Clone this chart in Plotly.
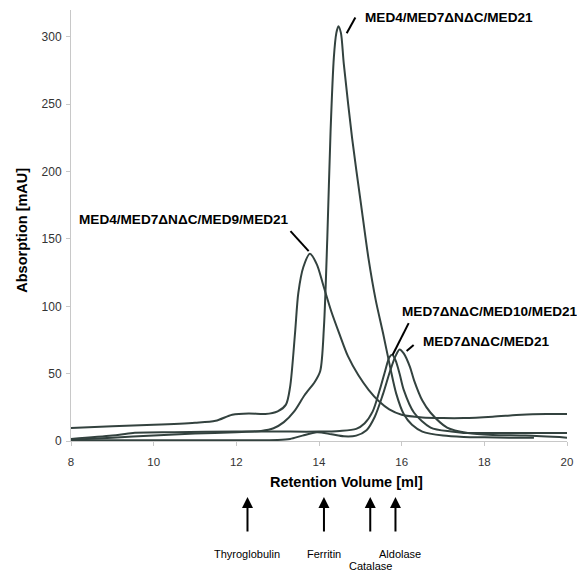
import plotly.graph_objects as go

# ---- data (retention volume [ml], absorption [mAU]) ----
a_x = [8.0, 9.0, 10.0, 11.0, 12.0, 12.6, 12.9, 13.15, 13.4, 13.65, 13.9, 14.03, 14.12, 14.2, 14.28, 14.36, 14.42, 14.47, 14.53, 14.6, 14.8, 15.02, 15.2, 15.37, 15.55, 15.72, 15.87, 16.05, 16.25, 16.5, 17.0, 17.5, 18.0, 18.6, 19.2]
a_y = [1.0, 2.5, 4.0, 5.5, 6.5, 7.5, 9.5, 14, 22, 34, 44, 52, 85, 150, 230, 285, 303, 308, 303, 280, 225, 175, 135, 105, 80, 55, 35, 20, 12, 7, 4, 3, 2.7, 2.5, 2.5]

b_x = [8.0, 9.0, 10.0, 11.0, 11.5, 11.9, 12.3, 12.7, 13.0, 13.2, 13.3, 13.42, 13.5, 13.62, 13.78, 13.95, 14.1, 14.3, 14.5, 14.7, 14.95, 15.2, 15.45, 15.7, 16.0, 16.5, 17.0, 17.5, 18.2, 18.9, 19.5, 20.0]
b_y = [9.6, 11, 12, 13.5, 15, 19.5, 20.5, 20, 22, 27, 40, 80, 110, 129, 139, 131, 116, 96, 79, 63, 49, 38, 29.5, 23.5, 19.5, 17.5, 17, 17, 18, 19.5, 20, 20]

c_x = [8.0, 9.0, 9.5, 10.5, 12.0, 13.0, 14.0, 14.5, 14.9, 15.1, 15.3, 15.47, 15.6, 15.7, 15.77, 15.85, 15.95, 16.05, 16.3, 16.7, 17.2, 17.5, 18.0, 19.0, 20.0]
c_y = [1.5, 4, 6, 6.5, 7, 7, 7, 7.5, 9, 13, 22, 38, 52, 62, 64, 60, 50, 38, 21, 10, 7, 6, 6, 6, 6]

d_x = [8.0, 10.0, 12.0, 13.0, 13.3, 13.6, 13.95, 14.3, 14.6, 14.9, 15.15, 15.35, 15.55, 15.72, 15.85, 15.95, 16.05, 16.2, 16.3, 16.5, 16.7, 17.1, 17.6, 18.2, 19.0, 20.0]
d_y = [0.5, 0.5, 0.5, 0.8, 1.5, 4, 6.5, 5, 3.5, 4, 8, 18, 35, 52, 63, 68, 65, 55, 45, 30, 21, 10, 6, 4.5, 4, 2.5]

series = [(a_x, a_y), (b_x, b_y), (c_x, c_y), (d_x, d_y)]

x_ticks = [8, 10, 12, 14, 16, 18, 20]
y_ticks = [0, 50, 100, 150, 200, 250, 300]

# peak labels: text, label anchor (x, y), pointer start, pointer end
peak_labels = ["MED4/MED7\u0394N\u0394C/MED21", "MED4/MED7\u0394N\u0394C/MED9/MED21",
               "MED7\u0394N\u0394C/MED10/MED21", "MED7\u0394N\u0394C/MED21"]
label_pos = [(15.06, 314.5), (8.15, 164.7), (15.95, 96.4), (16.46, 74.2)]
pointer_from = [(14.67, 302.7), (13.31, 155.8), (16.17, 87.5), (16.29, 71.2)]
pointer_to = [(14.88, 314.5), (13.75, 141.0), (15.78, 63.8), (16.12, 66.8)]

# calibration standards
standards = ["Thyroglobulin", "Ferritin", "Catalase", "Aldolase"]
standard_vol = [12.27, 14.12, 15.24, 15.85]
standard_label_x = [12.25, 14.11, 15.25, 15.97]
standard_label_row = [0, 0, 1, 0]

LINE = "#33423f"
FONT = "Liberation Sans, Arial, sans-serif"

fig = go.Figure()
for xs, ys in series:
    fig.add_trace(go.Scatter(x=xs, y=ys, mode="lines",
                             line=dict(color=LINE, width=2, shape="spline", smoothing=0.8),
                             showlegend=False, hoverinfo="skip"))

ann = []
for t, (lx, ly) in zip(peak_labels, label_pos):
    ann.append(dict(x=lx, y=ly, xref="x", yref="y", text="<b>%s</b>" % t, showarrow=False,
                    xanchor="left", yanchor="middle", font=dict(size=13.6, color="black", family=FONT)))
shapes = []
for (x0, y0), (x1, y1) in zip(pointer_from, pointer_to):
    shapes.append(dict(type="line", xref="x", yref="y", x0=x0, y0=y0, x1=x1, y1=y1,
                       line=dict(color="black", width=2)))

for name, v, lx, row in zip(standards, standard_vol, standard_label_x, standard_label_row):
    ann.append(dict(x=v, y=-0.13, xref="x", yref="paper", text="", showarrow=True,
                    ax=0, ay=36, arrowhead=2, arrowsize=1.1, arrowwidth=2, arrowcolor="black"))
    ann.append(dict(x=lx, y=-0.262 - 0.028 * row, xref="x", yref="paper", text=name, showarrow=False,
                    xanchor="center", yanchor="middle", font=dict(size=11, color="black", family=FONT)))

ann.append(dict(x=14.67, y=-0.095, xref="x", yref="paper", text="<b>Retention Volume [ml]</b>",
                showarrow=False, xanchor="center", yanchor="middle",
                font=dict(size=14.5, color="black", family=FONT)))
ann.append(dict(x=-0.099, y=0.49, xref="paper", yref="paper", text="<b>Absorption [mAU]</b>",
                showarrow=False, textangle=-90, xanchor="center", yanchor="middle",
                font=dict(size=14.5, color="black", family=FONT)))

# page body has an 8px margin, so the figure is sized/offset to compensate
fig.update_layout(
    width=577, height=566,
    margin=dict(l=63, r=18, t=2, b=133),
    paper_bgcolor="white", plot_bgcolor="white",
    annotations=ann, shapes=shapes,
    font=dict(family=FONT, color="#333333", size=11),
    xaxis=dict(range=[8, 20], tickvals=x_ticks, ticktext=[str(v) for v in x_ticks],
               showgrid=False, zeroline=False, showline=True, linecolor="#c8c8c8", linewidth=1,
               ticks="outside", ticklen=4, tickcolor="#c8c8c8", ticklabelstandoff=6,
               tickfont=dict(size=11.5, color="#333333")),
    yaxis=dict(range=[0, 320], tickvals=y_ticks, ticktext=[str(v) for v in y_ticks],
               showgrid=False, zeroline=False, showline=True, linecolor="#c8c8c8", linewidth=1,
               ticks="outside", ticklen=4, tickcolor="#c8c8c8", ticklabelstandoff=2,
               tickfont=dict(size=12, color="#333333")),
)

fig.write_html("out.html")
